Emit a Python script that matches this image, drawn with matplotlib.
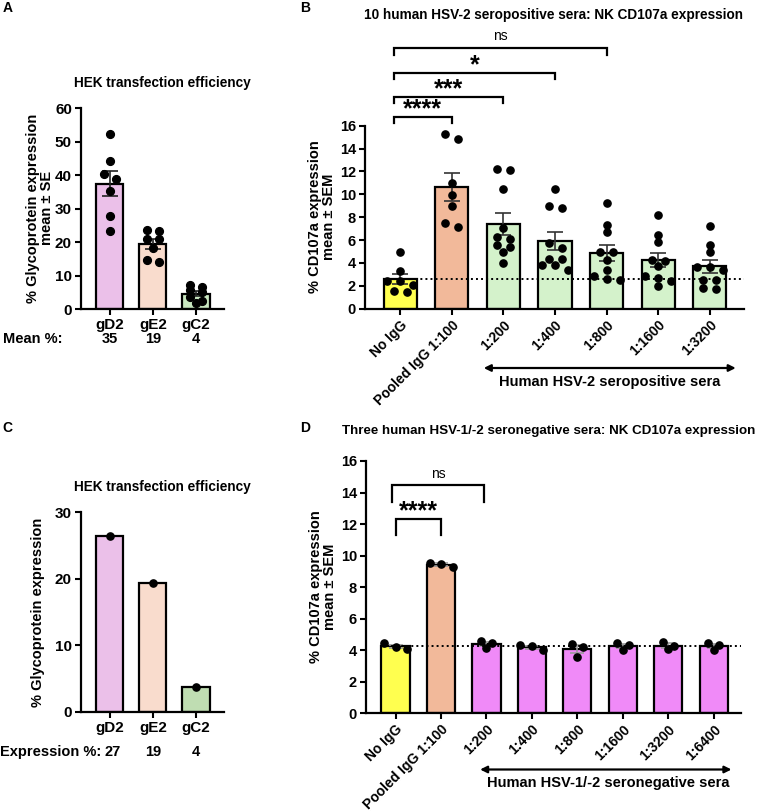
import numpy as np
import matplotlib
matplotlib.use('Agg')
import matplotlib.pyplot as plt
from matplotlib.transforms import blended_transform_factory

plt.rcParams['font.family'] = ['Liberation Sans', 'DejaVu Sans']
plt.rcParams['font.weight'] = 'bold'
plt.rcParams['axes.labelweight'] = 'bold'

W, H = 767, 811

# ---- datos ----
# A: HEK transfection efficiency (replicas)
glyco = ['gD2', 'gE2', 'gC2']
a_gD2 = [52.3, 44.3, 40.4, 38.8, 35.3, 27.8, 23.4]
a_gE2 = [23.6, 23.4, 20.9, 20.8, 18.3, 14.2, 14.5]
a_gC2 = [7.3, 6.6, 5.6, 5.0, 3.7, 2.3, 1.8]
a_mean_txt = ['35', '19', '4']

# C: una sola medicion
c_vals = [26.5, 19.3, 3.75]
c_txt = ['27', '19', '4']

# B: 10 sueros seropositivos
b_labels = ['No IgG', 'Pooled IgG 1:100', '1:200', '1:400', '1:800', '1:1600', '1:3200']
b_noigg = [4.98, 3.27, 2.42, 2.04, 2.42, 1.46, 1.52]
b_pooled = [15.24, 14.83, 10.99, 9.94, 9.0, 7.49, 7.14]
b_200 = [12.12, 12.2, 10.46, 7.08, 6.09, 6.27, 5.39, 5.53, 4.95, 3.99]
b_400 = [10.5, 8.8, 8.95, 5.74, 5.3, 4.34, 4.34, 3.85, 3.85, 3.41]
b_800 = [9.24, 7.34, 6.67, 4.98, 4.98, 4.28, 3.41, 2.82, 2.6, 2.53]
b_1600 = [8.16, 6.41, 5.8, 4.28, 4.14, 3.76, 2.83, 2.65, 2.39, 1.95]
b_3200 = [7.26, 5.57, 4.95, 3.61, 3.41, 3.61, 2.53, 2.53, 1.75, 1.78]
b_sig = [(1, '****'), (2, '***'), (3, '*'), (4, 'ns')]

# D: 3 sueros seronegativos
d_labels = ['No IgG', 'Pooled IgG 1:100', '1:200', '1:400', '1:800', '1:1600', '1:3200', '1:6400']
d_noigg = [4.1, 4.44, 4.19]
d_pooled = [9.26, 9.53, 9.49]
d_200 = [4.61, 4.16, 4.48]
d_400 = [4.02, 4.31, 4.27]
d_800 = [4.4, 3.57, 4.19]
d_1600 = [4.44, 4.02, 4.33]
d_3200 = [4.55, 4.06, 4.27]
d_6400 = [4.02, 4.44, 4.31]
d_sig = [(1, '****'), (2, 'ns')]

# ---- colores ----
col_gD2 = '#EBC0E9'
col_gE2 = '#F9DCCD'
col_gC2 = '#C9E7C0'
col_no = '#FFFF4F'
col_pool = '#F2B99A'
col_pos = '#D4F2CB'
col_neg = '#F08AF8'

FT = 9.8     # titulos
FL = 10.5    # etiquetas de eje
FK = 10.5    # ticks


def px(x, y):
    return x / W, 1 - y / H


def swarm(ax, xc, vals, step_px, tol_px):
    # puntos en filas centradas cuando estan muy cerca en y
    pos = ax.get_position()
    x0, x1 = ax.get_xlim()
    y0, y1 = ax.get_ylim()
    kx = pos.width * W / (x1 - x0)
    ky = pos.height * H / (y1 - y0)
    vals = np.asarray(vals, dtype=float)
    order = np.argsort(-vals, kind='stable')
    rows = []
    for i in order:
        if rows and (vals[rows[-1][0]] - vals[i]) * ky <= tol_px:
            rows[-1].append(i)
        else:
            rows.append([i])
    xs = np.zeros(len(vals))
    for r in rows:
        n = len(r)
        for k, i in enumerate(r):
            xs[i] = xc + (k - (n - 1) / 2) * step_px / kx
    return xs


def estilo(ax):
    for s in ['top', 'right']:
        ax.spines[s].set_visible(False)
    for s in ['left', 'bottom']:
        ax.spines[s].set_linewidth(1.6)
    ax.tick_params(width=1.5, length=4.5, labelsize=FK, pad=2)


def panel_barras(ax, groups, colors, width, step_px, tol_px, ms, ecol, cap):
    means = [np.mean(g) for g in groups]
    sems = [np.std(g, ddof=1) / np.sqrt(len(g)) for g in groups]
    x = np.arange(len(groups))
    ax.bar(x, means, width=width, color=colors, edgecolor='black', linewidth=1.6, zorder=2)
    ax.errorbar(x, means, yerr=sems, fmt='none', ecolor=ecol, elinewidth=1.2,
                capsize=cap, capthick=1.2, zorder=4)
    for i, g in enumerate(groups):
        xs = swarm(ax, i, g, step_px, tol_px)
        ax.plot(xs, g, 'o', color='black', ms=ms, zorder=5, clip_on=False)
    return means


def corchete(ax, x0, x1, y, leg, txt, dy, fs_star):
    ax.plot([x0, x0, x1, x1], [y - leg, y, y, y - leg], color='black', lw=1.6,
            clip_on=False, solid_joinstyle='miter')
    if txt == 'ns':
        ax.text((x0 + x1) / 2, y + dy, txt, ha='center', va='center', fontsize=10,
                fontweight='normal', clip_on=False)
    else:
        ax.text((x0 + x1) / 2, y + dy * 0.05, txt, ha='center', va='baseline',
                fontsize=fs_star, fontweight='bold', clip_on=False)


fig = plt.figure(figsize=(W / 100, H / 100), dpi=100)

# ---------- A ----------
axA = fig.add_axes([81 / W, 1 - 309 / H, 143 / W, 200.7 / H])
axA.set_xlim(-0.67, 2.65)
axA.set_ylim(0, 60)
estilo(axA)
axA.tick_params(labelsize=11)
panel_barras(axA, [a_gD2, a_gE2, a_gC2], [col_gD2, col_gE2, col_gC2], 0.63,
             12.5, 5.5, 5.6, '#222222', 6)
axA.set_xticks(range(3))
axA.set_xticklabels(glyco, fontsize=11)
axA.set_yticks(range(0, 61, 10))
tA = blended_transform_factory(axA.transData, fig.transFigure)
fig.text(*px(3, 339), 'Mean %:', fontsize=10.5, ha='left', va='center')
for i, t in enumerate(a_mean_txt):
    fig.text(i, 1 - 339 / H, t, transform=tA, fontsize=10.5, ha='center', va='center')
fig.text(*px(162, 83), 'HEK transfection efficiency', fontsize=FT, ha='center', va='center')
fig.text(*px(40, 208), '% Glycoprotein expression\nmean ± SE', fontsize=FL,
         rotation=90, ha='center', va='center', multialignment='center', linespacing=1.0)
fig.text(*px(8, 8), 'A', fontsize=10, ha='center', va='center')

# ---------- C ----------
axC = fig.add_axes([81 / W, 1 - 711.5 / H, 143 / W, 199.2 / H])
axC.set_xlim(-0.67, 2.65)
axC.set_ylim(0, 30)
estilo(axC)
axC.tick_params(labelsize=11)
xc = np.arange(3)
axC.bar(xc, c_vals, width=0.63, color=[col_gD2, col_gE2, '#BFDDB2'], edgecolor='black',
        linewidth=1.6, zorder=2)
axC.plot(xc, c_vals, 'o', color='black', ms=5.2, zorder=5)
axC.set_xticks(xc)
axC.set_xticklabels(glyco, fontsize=11)
axC.set_yticks([0, 10, 20, 30])
tC = blended_transform_factory(axC.transData, fig.transFigure)
fig.text(*px(0, 752), 'Expression %:', fontsize=10.5, ha='left', va='center')
for i, t in enumerate(c_txt):
    fig.text(i + 0.06 * (i == 0), 1 - 752 / H, t, transform=tC, fontsize=10.5,
             ha='center', va='center')
fig.text(*px(162, 487), 'HEK transfection efficiency', fontsize=FT, ha='center', va='center')
fig.text(*px(38, 612), '% Glycoprotein expression', fontsize=FL,
         rotation=90, ha='center', va='center')
fig.text(*px(7, 428), 'C', fontsize=10, ha='center', va='center')

# ---------- B ----------
axB = fig.add_axes([365 / W, 1 - 308.7 / H, 379 / W, 183 / H])
axB.set_xlim(-0.68, 6.66)
axB.set_ylim(0, 16)
estilo(axB)
b_groups = [b_noigg, b_pooled, b_200, b_400, b_800, b_1600, b_3200]
b_means = panel_barras(axB, b_groups, [col_no, col_pool] + [col_pos] * 5, 0.64,
                       13, 5.5, 5.2, '#333333', 6)
axB.plot([-0.3, 6.66], [b_means[0]] * 2, ls=(0, (1, 1.6)), color='black', lw=1.4, zorder=6,
         clip_on=False)
axB.set_xticks(range(len(b_labels)))
axB.set_xticklabels(b_labels, rotation=45, ha='right', rotation_mode='anchor', fontsize=10)
axB.set_yticks(range(0, 17, 2))
for k, (j, txt) in enumerate(b_sig):
    yb = [16.78, 18.55, 20.65, 22.76][k]
    corchete(axB, -0.12, j, yb, 0.58, txt, 1.05, 18)
tB = blended_transform_factory(axB.transData, fig.transFigure)
axB.annotate('', xy=(6.5, 1 - 368 / H), xytext=(1.62, 1 - 368 / H), xycoords=tB,
             textcoords=tB, arrowprops=dict(arrowstyle='<|-|>', color='black', lw=1.6,
                                            mutation_scale=10, shrinkA=0, shrinkB=0))
fig.text(4.06, 1 - 382 / H, 'Human HSV-2 seropositive sera', transform=tB, fontsize=FL,
         ha='center', va='center')
fig.text(*px(553, 15), '10 human HSV-2 seropositive sera: NK CD107a expression',
         fontsize=FT, ha='center', va='center')
fig.text(*px(322, 217), '% CD107a expression\nmean ± SEM', fontsize=FL, rotation=90,
         ha='center', va='center', multialignment='center', linespacing=1.0)
fig.text(*px(305, 8), 'B', fontsize=10, ha='center', va='center')

# ---------- D ----------
axD = fig.add_axes([366 / W, 1 - 713.3 / H, 375 / W, 252.3 / H])
axD.set_xlim(-0.65, 7.6)
axD.set_ylim(0, 16)
estilo(axD)
d_groups = [d_noigg, d_pooled, d_200, d_400, d_800, d_1600, d_3200, d_6400]
d_means = panel_barras(axD, d_groups, [col_no, col_pool] + [col_neg] * 6, 0.62,
                       11.5, 5.5, 5.2, '#9a9a9a', 5)
axD.plot([-0.31, 7.6], [d_means[0]] * 2, ls=(0, (1, 1.6)), color='black', lw=1.4, zorder=6,
         clip_on=False)
axD.set_xticks(range(len(d_labels)))
axD.set_xticklabels(d_labels, rotation=45, ha='right', rotation_mode='anchor', fontsize=10)
axD.set_yticks(range(0, 17, 2))
for k, (j, txt) in enumerate(d_sig):
    yb = [12.34, 14.48][k]
    x0 = [0.0, -0.07][k]
    corchete(axD, x0, j - 0.05 * k, yb, 1.05, txt, 0.68, 18)
tD = blended_transform_factory(axD.transData, fig.transFigure)
axD.annotate('', xy=(7.39, 1 - 769.5 / H), xytext=(1.86, 1 - 769.5 / H), xycoords=tD,
             textcoords=tD, arrowprops=dict(arrowstyle='<|-|>', color='black', lw=1.6,
                                            mutation_scale=10, shrinkA=0, shrinkB=0))
fig.text(4.69, 1 - 783 / H, 'Human HSV-1/-2 seronegative sera', transform=tD, fontsize=FL,
         ha='center', va='center')
fig.text(*px(549, 431), 'Three human HSV-1/-2 seronegative sera: NK CD107a expression',
         fontsize=9.6, ha='center', va='center')
fig.text(*px(323, 587), '% CD107a expression\nmean ± SEM', fontsize=FL, rotation=90,
         ha='center', va='center', multialignment='center', linespacing=1.0)
fig.text(*px(305, 428), 'D', fontsize=10, ha='center', va='center')

fig.savefig('out.png', dpi=100)
